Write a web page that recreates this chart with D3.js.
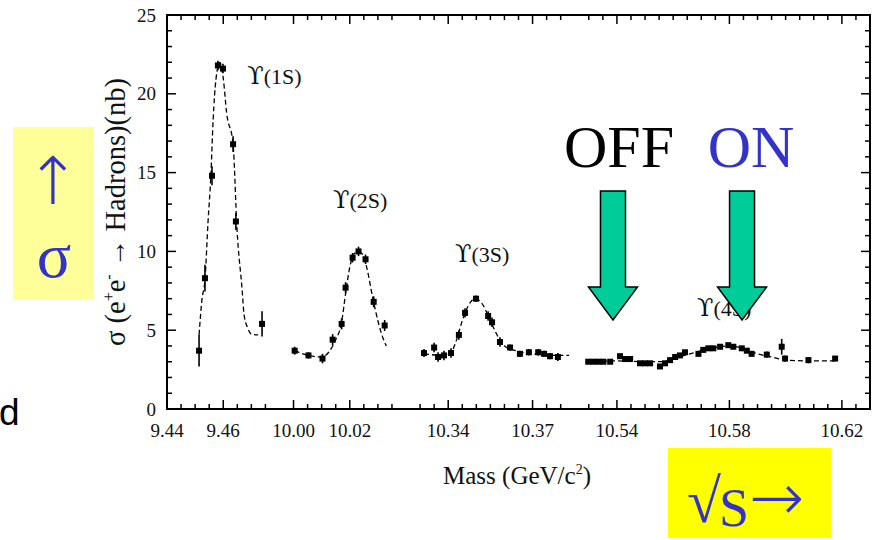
<!DOCTYPE html>
<html>
<head>
<meta charset="utf-8">
<script src="https://cdn.jsdelivr.net/npm/d3@7"></script>
<style>
  html, body { margin: 0; padding: 0; background: #fff; }
  svg { display: block; }
</style>
</head>
<body>
<svg id="chart" width="878" height="540" font-family="Liberation Serif, DejaVu Serif, serif"></svg>
<script>
// Broken mass axis: four windows around the Upsilon resonances (GeV)
const massWindows = [[9.44, 9.48], [9.995, 10.04], [10.325, 10.385], [10.525, 10.63]];
const massTickLabels = ["9.44", "9.46", "10.00", "10.02", "10.34", "10.37", "10.54", "10.58", "10.62"];
const sigmaTicks = [0, 5, 10, 15, 20, 25];

// Measured cross sections: [mass GeV, sigma nb, error nb]
const ups1S = [[9.4514, 3.7, 1.0], [9.4535, 8.3, 0.85], [9.4560, 14.8, 0.6], [9.4581, 21.8, 0.3],
  [9.4599, 21.6, 0.3], [9.4635, 16.8, 0.5], [9.4645, 11.9, 0.55], [9.4738, 5.4, 0.8]];
const ups2S = [[10.0004, 3.7, 0.25], [10.0053, 3.4, 0.2], [10.0103, 3.2, 0.3], [10.0139, 4.4, 0.35],
  [10.0171, 5.4, 0.35], [10.0185, 7.7, 0.35], [10.0210, 9.6, 0.3], [10.0231, 10.0, 0.3],
  [10.0256, 9.5, 0.3], [10.0285, 6.8, 0.35], [10.0324, 5.3, 0.35]];
const ups3S = [[10.3314, 3.55, 0.25], [10.3350, 3.9, 0.3], [10.3364, 3.3, 0.3], [10.3385, 3.4, 0.3],
  [10.3410, 3.55, 0.3], [10.3438, 4.7, 0.3], [10.3460, 6.1, 0.3], [10.3499, 7.0, 0.2],
  [10.3542, 5.9, 0.3], [10.3556, 5.5, 0.3], [10.3584, 4.25, 0.3], [10.3620, 3.9, 0.2],
  [10.3655, 3.5, 0.2], [10.3687, 3.6, 0.2], [10.3720, 3.6, 0.2], [10.3741, 3.5, 0.2],
  [10.3762, 3.35, 0.2], [10.3790, 3.3, 0.25]];
const ups4S = [[10.5298, 3.0, 0.1], [10.5316, 3.0, 0.1], [10.5334, 3.0, 0.1], [10.5352, 3.0, 0.1],
  [10.5376, 3.0, 0.1], [10.5411, 3.35, 0.15], [10.5429, 3.17, 0.1], [10.5447, 3.17, 0.1],
  [10.5482, 2.9, 0.1], [10.5500, 2.9, 0.1], [10.5518, 2.9, 0.1], [10.5553, 2.7, 0.15],
  [10.5571, 2.9, 0.1], [10.5589, 3.1, 0.15], [10.5607, 3.3, 0.15], [10.5624, 3.4, 0.15],
  [10.5642, 3.6, 0.15], [10.5690, 3.5, 0.15], [10.5707, 3.75, 0.1], [10.5725, 3.85, 0.1],
  [10.5743, 3.85, 0.1], [10.5767, 3.95, 0.1], [10.5796, 4.05, 0.1], [10.5814, 3.95, 0.1],
  [10.5844, 3.85, 0.1], [10.5862, 3.7, 0.1], [10.5879, 3.5, 0.15], [10.5933, 3.45, 0.2],
  [10.5986, 3.95, 0.5], [10.5998, 3.2, 0.2], [10.6081, 3.1, 0.2], [10.6176, 3.2, 0.15]];

// Fitted resonance shapes: [mass GeV, sigma nb]
const fit1S = [[9.4514, 4.7], [9.4524, 6.9], [9.4535, 8.2], [9.4546, 11.9], [9.4556, 14.8],
  [9.4564, 18.3], [9.4574, 20.9], [9.4588, 22.0], [9.4600, 21.0], [9.4612, 18.8],
  [9.4635, 16.8], [9.4649, 11.4], [9.4667, 7.6], [9.4674, 6.0], [9.4688, 5.1],
  [9.4700, 4.75], [9.4724, 4.7]];
const fit2S = [[10.0004, 3.7], [10.0053, 3.4], [10.0100, 3.3], [10.0125, 3.6], [10.0150, 4.4],
  [10.0170, 5.4], [10.0185, 7.3], [10.0200, 9.0], [10.0220, 9.9], [10.0240, 9.9],
  [10.0260, 9.0], [10.0280, 7.2], [10.0300, 5.6], [10.0318, 4.5], [10.0330, 4.0]];
const fit3S = [[10.3314, 3.5], [10.3385, 3.4], [10.3410, 3.6], [10.3430, 4.4], [10.3450, 5.6],
  [10.3470, 6.5], [10.3495, 7.0], [10.3520, 6.7], [10.3540, 6.0], [10.3560, 5.2],
  [10.3580, 4.5], [10.3600, 4.0], [10.3640, 3.7], [10.3700, 3.5], [10.3790, 3.4], [10.3830, 3.4]];
const fit4S = [[10.5290, 3.0], [10.5400, 3.05], [10.5500, 3.0], [10.5560, 3.0], [10.5620, 3.3],
  [10.5680, 3.6], [10.5750, 3.9], [10.5800, 4.0], [10.5850, 3.85], [10.5900, 3.5],
  [10.5950, 3.3], [10.6000, 3.1], [10.6100, 3.05], [10.6180, 3.05]];

// Resonance names with their anchor (mass GeV, sigma nb)
const peakStates = ["(1S)", "(2S)", "(3S)", "(4S)"];
const peakAnchors = [[9.4685, 20.6], [10.0140, 12.75], [10.3424, 9.33], [10.5685, 5.9]];

// Beam energy settings marked by arrows
const runNames = ["OFF", "ON"];
const runMasses = [10.5386, 10.5845];

const svg = d3.select("#chart");
const W = 878, H = 540;
const plot = { left: 167, right: 870, top: 15, bottom: 409 };

svg.append("rect").attr("width", W).attr("height", H).attr("fill", "#fff");

// Piecewise (polylinear) scale: each mass window gets width proportional to its span
const totalSpan = d3.sum(massWindows, w => w[1] - w[0]);
const pxPerGeV = (plot.right - plot.left) / totalSpan;
const xDomain = [], xRange = [];
let cursor = plot.left;
massWindows.forEach(w => {
  xDomain.push(w[0], w[1]);
  xRange.push(cursor, cursor + (w[1] - w[0]) * pxPerGeV);
  cursor += (w[1] - w[0]) * pxPerGeV;
});
const x = d3.scaleLinear().domain(xDomain).range(xRange);
const y = d3.scaleLinear().domain([0, 25]).range([plot.bottom, plot.top]);

// Frame
svg.append("rect")
  .attr("x", plot.left).attr("y", plot.top)
  .attr("width", plot.right - plot.left).attr("height", plot.bottom - plot.top)
  .attr("fill", "none").attr("stroke", "#000").attr("stroke-width", 2);

// Mass ticks every 5 MeV inside each window (break points left bare)
const majorSet = new Set(massTickLabels.map(v => (+v).toFixed(3)));
const massTicks = [];
massWindows.forEach(w => {
  const start = w[0] + 0.005;
  d3.range(Math.round((w[1] - start) / 0.005)).forEach(k => {
    const v = +(start + k * 0.005).toFixed(3);
    if (v < w[1] - 1e-6) massTicks.push(v);
  });
});
const tickG = svg.append("g").attr("stroke", "#000").attr("stroke-width", 1.5);
massTicks.forEach(v => {
  const len = majorSet.has(v.toFixed(3)) ? 9 : 5;
  const px = x(v);
  tickG.append("line").attr("x1", px).attr("x2", px).attr("y1", plot.bottom).attr("y2", plot.bottom - len);
  tickG.append("line").attr("x1", px).attr("x2", px).attr("y1", plot.top).attr("y2", plot.top + len);
});
// Sigma ticks every 1 nb on both sides
d3.range(1, 25).forEach(v => {
  const len = v % 5 === 0 ? 9 : 5;
  const py = y(v);
  tickG.append("line").attr("x1", plot.left).attr("x2", plot.left + len).attr("y1", py).attr("y2", py);
  tickG.append("line").attr("x1", plot.right).attr("x2", plot.right - len).attr("y1", py).attr("y2", py);
});

// Tick labels
svg.append("g").selectAll("text").data(massTickLabels).join("text")
  .attr("x", d => x(+d)).attr("y", plot.bottom + 28)
  .attr("text-anchor", "middle").attr("font-size", 19).attr("fill", "#111")
  .text(d => d);
svg.append("g").selectAll("text").data(sigmaTicks).join("text")
  .attr("x", plot.left - 11).attr("y", d => y(d)).attr("dy", "0.35em")
  .attr("text-anchor", "end").attr("font-size", 19).attr("fill", "#111")
  .text(d => d);

// Axis titles
const xt = svg.append("text").attr("x", 517).attr("y", 484)
  .attr("text-anchor", "middle").attr("font-size", 25).attr("fill", "#111");
xt.append("tspan").text("Mass (GeV/c");
xt.append("tspan").attr("font-size", 14).attr("dy", -10).text("2");
xt.append("tspan").attr("dy", 10).text(")");

const yt = svg.append("text")
  .attr("transform", "translate(125,212) rotate(-90)")
  .attr("text-anchor", "middle").attr("font-size", 28.5).attr("fill", "#111");
yt.append("tspan").text("\u03C3 (e");
yt.append("tspan").attr("font-size", 16).attr("dy", -11).text("+");
yt.append("tspan").attr("dy", 11).text("e");
yt.append("tspan").attr("font-size", 16).attr("dy", -11).text("-");
yt.append("tspan").attr("dy", 11).text(" \u2192 Hadrons)(nb)");

// Fitted curves
const line = d3.line().x(d => x(d[0])).y(d => y(d[1])).curve(d3.curveMonotoneX);
[fit1S, fit2S, fit3S, fit4S].forEach(f => {
  svg.append("path").attr("d", line(f))
    .attr("fill", "none").attr("stroke", "#000").attr("stroke-width", 1.3)
    .attr("stroke-dasharray", "5,3");
});

// Data points with error bars
const pts = svg.append("g");
[ups1S, ups2S, ups3S, ups4S].forEach(series => {
  const g = pts.append("g");
  g.selectAll("line").data(series).join("line")
    .attr("x1", d => x(d[0])).attr("x2", d => x(d[0]))
    .attr("y1", d => y(d[1] - d[2])).attr("y2", d => y(d[1] + d[2]))
    .attr("stroke", "#000").attr("stroke-width", 1.6);
  g.selectAll("rect").data(series).join("rect")
    .attr("x", d => x(d[0]) - 3).attr("y", d => y(d[1]) - 3)
    .attr("width", 6).attr("height", 6).attr("fill", "#000");
});

// Resonance names: upsilon-with-hook glyph followed by the state
const names = svg.append("g").selectAll("text").data(peakStates).join("text")
  .attr("x", (d, i) => x(peakAnchors[i][0])).attr("y", (d, i) => y(peakAnchors[i][1]))
  .attr("font-size", 22).attr("fill", "#111");
names.append("tspan").attr("font-family", "DejaVu Serif, serif").attr("font-size", 24).text("\u03D2");
names.append("tspan").text(d => d);

// OFF / ON labels and arrows
const arrowTipY = 320;
const arrowShape = (tx) => {
  const hw = 24.5, sw = 12.5, headH = 33, shaftTop = 191;
  return [[tx - sw, shaftTop], [tx + sw, shaftTop], [tx + sw, arrowTipY - headH],
          [tx + hw, arrowTipY - headH], [tx, arrowTipY], [tx - hw, arrowTipY - headH],
          [tx - sw, arrowTipY - headH]];
};
svg.append("g").selectAll("polygon").data(runMasses).join("polygon")
  .attr("points", d => arrowShape(x(d)).map(p => p.join(",")).join(" "))
  .attr("fill", "#00cc99").attr("stroke", "#000").attr("stroke-width", 1.5)
  .attr("stroke-linejoin", "miter");
svg.append("g").selectAll("text").data(runNames).join("text")
  .attr("x", (d, i) => x(runMasses[i]) + (i === 0 ? 6 : 9)).attr("y", 167)
  .attr("text-anchor", "middle").attr("font-size", 60)
  .attr("fill", (d, i) => i === 0 ? "#000" : "#3333cc")
  .text(d => d);

// Side boxes
svg.append("rect").attr("x", 13).attr("y", 127).attr("width", 81).attr("height", 173).attr("fill", "#ffff99");
svg.append("text").attr("x", 53).attr("y", 204).attr("text-anchor", "middle")
  .attr("font-family", "DejaVu Sans, sans-serif").attr("font-weight", 200)
  .attr("font-size", 66).attr("fill", "#3333cc").text("\u2191");
svg.append("text").attr("x", 54).attr("y", 277).attr("text-anchor", "middle")
  .attr("font-size", 64).attr("fill", "#3333cc").text("\u03C3");

svg.append("rect").attr("x", 668).attr("y", 448).attr("width", 163).attr("height", 90).attr("fill", "#ffff00");
const rs = svg.append("text").attr("x", 687).attr("y", 522).attr("fill", "#3333cc");
rs.append("tspan").attr("font-size", 62).text("\u221A");
rs.append("tspan").attr("font-size", 54).attr("dx", -2).attr("dy", 4).text("S");
rs.append("tspan").attr("font-family", "DejaVu Sans, sans-serif").attr("font-weight", 200)
  .attr("font-size", 66).attr("dy", -6).text("\u2192");

svg.append("text").attr("x", -1).attr("y", 425)
  .attr("font-family", "Liberation Sans, Arial, sans-serif")
  .attr("font-size", 37).attr("fill", "#000").text("d");
</script>
</body>
</html>
